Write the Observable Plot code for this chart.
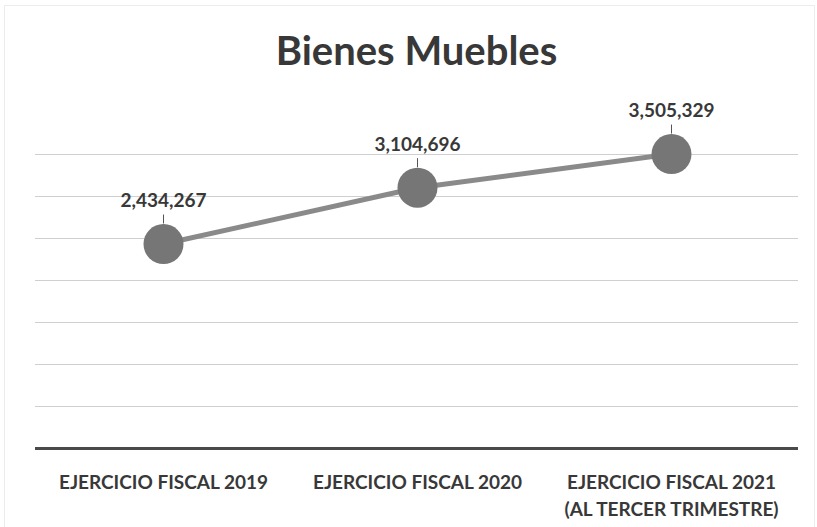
<!DOCTYPE html>
<html>
<head>
<meta charset="utf-8">
<script src="https://cdn.jsdelivr.net/npm/d3@7"></script>
<script src="https://cdn.jsdelivr.net/npm/@observablehq/plot@0.6"></script>
<style>
  html, body { margin: 0; padding: 0; background: #fff; }
  #wrap { position: relative; width: 817px; height: 527px; overflow: hidden; }
  #title { height: 80px; padding-top: 10px; line-height: 80px; padding-left: 35px; padding-right: 19px;
           text-align: center; font-family: Lato, "Open Sans", sans-serif; font-weight: 700;
           font-size: 40px; color: #383838; }
  #frame { position: absolute; left: 4px; top: 5px; right: 2px; bottom: -5px; border: 1px solid #ececec; pointer-events: none; }
  svg { display: block; }
</style>
</head>
<body>
<div id="wrap">
  <div id="frame"></div>
  <div id="title">Bienes Muebles</div>
  <div id="chart"></div>
</div>
<script>
const categories = ["EJERCICIO FISCAL 2019", "EJERCICIO FISCAL 2020", "EJERCICIO FISCAL 2021\n(AL TERCER TRIMESTRE)"];
const values = [2434267, 3104696, 3505329];
const gridTicks = [500000, 1000000, 1500000, 2000000, 2500000, 3000000, 3500000];
const yMax = 4000000;

const data = categories.map((c, i) => ({category: c, value: values[i]}));
const fmt = d3.format(",");
const font = "Lato, 'Open Sans', sans-serif";

const chart = Plot.plot({
  width: 817,
  height: 437,
  marginTop: 22,
  marginBottom: 79,
  marginLeft: 35,
  marginRight: 19,
  style: {fontFamily: font, background: "transparent", color: "#383838"},
  x: {type: "point", domain: categories, padding: 0.5},
  y: {domain: [0, yMax], axis: null},
  marks: [
    Plot.gridY(gridTicks, {stroke: "#cfcfcf", strokeOpacity: 1, strokeWidth: 1.2}),
    Plot.ruleY([0], {stroke: "#4a4a4a", strokeWidth: 3}),
    Plot.axisX({tickSize: 0, tickPadding: 22, fontSize: 19, fontWeight: "bold", lineHeight: 1.4, fill: "#383838", label: null}),
    Plot.line(data, {x: "category", y: "value", stroke: "#8a8a8a", strokeWidth: 5}),
    Plot.ruleX(data, {x: "category", y1: "value", y2: "value", insetTop: -29, insetBottom: 20, stroke: "#555", strokeWidth: 1}),
    Plot.dot(data, {x: "category", y: "value", r: 20, fill: "#767676", stroke: "none"}),
    Plot.text(data, {x: "category", y: "value", text: d => fmt(d.value), dy: -43, fontSize: 19, fontWeight: "bold", fill: "#383838"})
  ]
});
document.getElementById("chart").appendChild(chart);
</script>
</body>
</html>
